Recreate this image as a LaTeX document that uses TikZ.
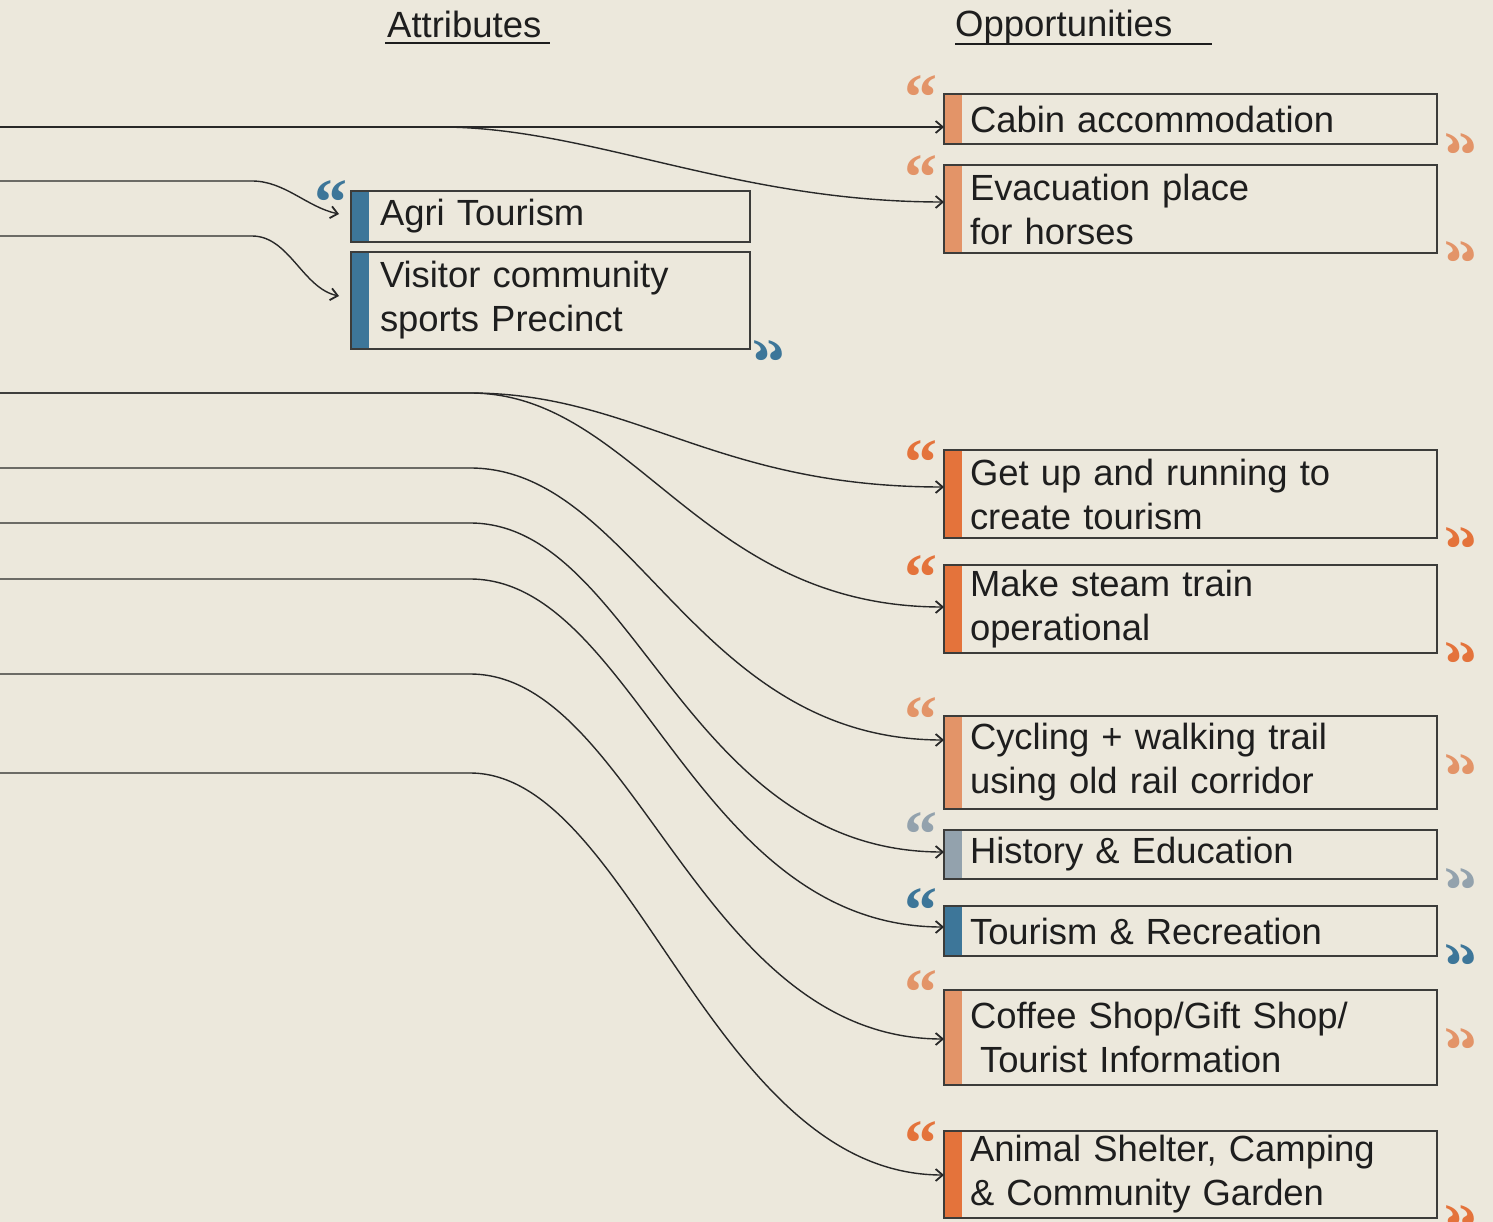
\documentclass[tikz,border=0pt]{standalone}
\usepackage{fontspec}
\setmainfont{Liberation Sans}
\newfontfamily\qfont{Liberation Serif}
\usepackage{graphicx}
\usetikzlibrary{arrows.meta}
\definecolor{bg}{RGB}{236,232,220}
\definecolor{boxline}{RGB}{60,60,58}
\definecolor{linec}{RGB}{40,40,40}
\definecolor{txt}{RGB}{30,30,30}
\definecolor{lorange}{RGB}{227,148,104}
\definecolor{dorange}{RGB}{228,115,59}
\definecolor{sblue}{RGB}{61,118,153}
\definecolor{sgrey}{RGB}{147,162,173}
\tikzset{
  stripe/.style={path picture={\fill[#1] (path picture bounding box.north west) rectangle ([xshift=18pt]path picture bounding box.south west);}},
  box/.style={rectangle, draw=boxline, line width=1.8pt, fill=bg, anchor=north west, outer sep=0pt, inner ysep=0pt, align=left, text=txt, font=\fontsize{36.4}{44}\selectfont},
  rbox/.style={box, inner xsep=26pt, text width=441pt, minimum width=493pt},
  lbox/.style={box, inner xsep=29pt, text width=341pt, minimum width=399pt},
  oq/.style={font=\qfont\bfseries\fontsize{66}{66}\selectfont, inner sep=0pt, anchor=north},
  hdr/.style={font=\fontsize{36.5}{44}\selectfont, text=txt, inner sep=0pt, anchor=base west},
  ul/.style={draw=txt, line width=2.6pt},
  conn/.style={draw=linec, line width=1.4pt, -{Straight Barb[length=7pt,width=12pt,line width=1.8pt]}},
}
\newcommand\cq{\reflectbox{“}}
\begin{document}
\begin{tikzpicture}[x=1pt,y=-1pt]
\fill[bg] (0,0) rectangle (1493,1222);
\useasboundingbox (0,0) rectangle (1493,1222);

% headers
\node[hdr] (attr) at (387,38) {Attributes};
\node[hdr] (opp) at (955,37) {Opportunities};
\draw[ul] ([xshift=-2pt,yshift=-5pt]attr.base west) -- ++(165,0);
\draw[ul] ([yshift=-7pt]opp.base west) -- ++(257,0);

% boxes
\node[rbox, stripe=lorange, minimum height=50pt] (cabin) at (944,94) {Cabin accommodation};
\node[rbox, stripe=lorange, minimum height=88pt] (evac) at (944,165) {Evacuation place\\for horses};
\node[lbox, stripe=sblue, minimum height=51pt] (agri) at (351,191) {Agri Tourism};
\node[lbox, stripe=sblue, minimum height=97pt] (visitor) at (351,252) {Visitor community\\sports Precinct};
\node[rbox, stripe=dorange, minimum height=88pt] (getup) at (944,450) {Get up and running to\\create tourism};
\node[rbox, stripe=dorange, minimum height=88pt] (steam) at (944,565) {Make steam train\\operational};
\node[rbox, stripe=lorange, minimum height=93pt] (cycling) at (944,716) {Cycling + walking trail\\using old rail corridor};
\node[rbox, stripe=sgrey, minimum height=49pt] (history) at (944,830) {History \& Education};
\node[rbox, stripe=sblue, minimum height=50pt] (tourism) at (944,906) {Tourism \& Recreation};
\node[rbox, stripe=lorange, minimum height=95pt] (coffee) at (944,990) {Coffee Shop/Gift Shop/\\\hspace*{10pt}Tourist Information};
\node[rbox, stripe=dorange, minimum height=87pt] (animal) at (944,1131) {Animal Shelter, Camping\\\& Community Garden};

% opening quotes
\node[oq, text=lorange] (qo1) at (921,75) {“};
\node[oq, text=lorange] (qo2) at (921,155) {“};
\node[oq, text=sblue] (qo3) at (331,180) {“};
\node[oq, text=dorange] (qo4) at (921,440) {“};
\node[oq, text=dorange] (qo5) at (921,555) {“};
\node[oq, text=lorange] (qo6) at (921,697) {“};
\node[oq, text=sgrey] (qo7) at (921,812) {“};
\node[oq, text=sblue] (qo8) at (921,888) {“};
\node[oq, text=lorange] (qo9) at (921,970) {“};
\node[oq, text=dorange] (qo10) at (921,1121) {“};
% closing quotes
\node[oq, text=lorange] (qc1) at (1461,133) {\cq};
\node[oq, text=lorange] (qc2) at (1461,241) {\cq};
\node[oq, text=sblue] (qc3) at (769,340) {\cq};
\node[oq, text=dorange] (qc4) at (1461,527) {\cq};
\node[oq, text=dorange] (qc5) at (1461,642) {\cq};
\node[oq, text=lorange] (qc6) at (1461,754) {\cq};
\node[oq, text=sgrey] (qc7) at (1461,868) {\cq};
\node[oq, text=sblue] (qc8) at (1461,944) {\cq};
\node[oq, text=lorange] (qc9) at (1461,1028) {\cq};
\node[oq, text=dorange] (qc10) at (1461,1205) {\cq};

% free ends
\coordinate (s1) at (0,127);
\coordinate (s2) at (0,181);
\coordinate (s3) at (0,236);
\coordinate (s4) at (0,393);
\coordinate (s5) at (0,468);
\coordinate (s6) at (0,523);
\coordinate (s7) at (0,579);
\coordinate (s8) at (0,674);
\coordinate (s9) at (0,773);
\coordinate (agriin) at (339,214);
\coordinate (visin) at (339,296);

% connectors
\draw[conn] (s1) -- (cabin.west |- 0,127);
\draw[conn] (s1) -- (440,127) .. controls +(150,0) and +(-210,0) .. (evac.west |- 0,202);
\draw[conn] (s2) -- (252,181) to[out=0,in=168,looseness=0.9] (agriin);
\draw[conn] (s3) -- (252,236) to[out=0,in=168,looseness=0.9] (visin);
\draw[conn] (s4) -- (470,393) .. controls +(165,0) and +(-230,0) .. (getup.west |- 0,487);
\draw[conn] (s4) -- (470,393) .. controls +(165,0) and +(-245,0) .. (steam.west |- 0,607);
\draw[conn] (s5) -- (470,468) .. controls +(165,0) and +(-250,0) .. (cycling.west |- 0,740);
\draw[conn] (s6) -- (470,523) .. controls +(165,0) and +(-260,0) .. (history.west |- 0,852);
\draw[conn] (s7) -- (470,579) .. controls +(165,0) and +(-250,0) .. (tourism.west |- 0,927);
\draw[conn] (s8) -- (470,674) .. controls +(165,0) and +(-245,0) .. (coffee.west |- 0,1039);
\draw[conn] (s9) -- (470,773) .. controls +(162,0) and +(-232,0) .. (animal.west |- 0,1175);
\end{tikzpicture}
\end{document}
